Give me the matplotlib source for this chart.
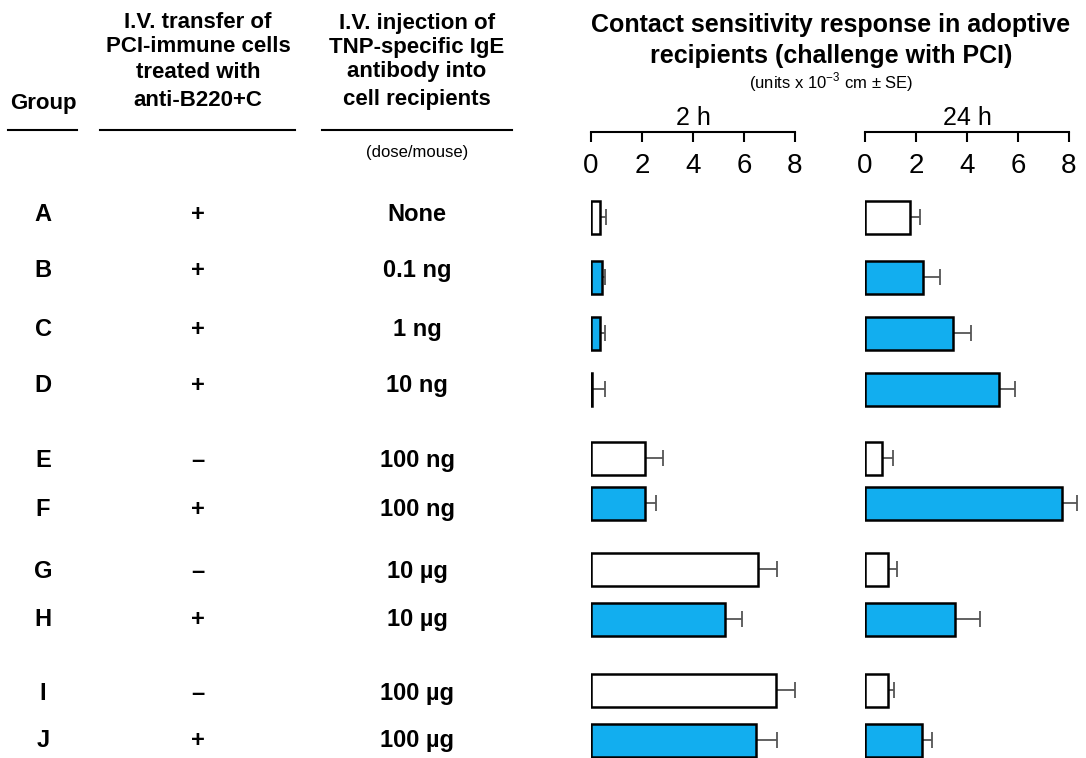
import matplotlib.pyplot as plt

plt.rcParams['font.family'] = ['Liberation Sans', 'DejaVu Sans']
plt.rcParams['mathtext.fontset'] = 'custom'
plt.rcParams['mathtext.rm'] = 'Liberation Sans'

# data
groups = ['A', 'B', 'C', 'D', 'E', 'F', 'G', 'H', 'I', 'J']
b220_treated = ['+', '+', '+', '+', '–', '+', '–', '+', '–', '+']
doses = ['None', '0.1 ng', '1 ng', '10 ng', '100 ng', '100 ng',
         '10 µg', '10 µg', '100 µg', '100 µg']
resp_2h = [0.35, 0.45, 0.35, 0.05, 2.12, 2.1, 6.55, 5.26, 7.24, 6.48]
err_2h = [0.22, 0.08, 0.2, 0.5, 0.7, 0.45, 0.75, 0.67, 0.75, 0.8]
resp_24h = [1.76, 2.28, 3.45, 5.27, 0.65, 7.72, 0.91, 3.52, 0.89, 2.24]
err_24h = [0.4, 0.65, 0.7, 0.63, 0.43, 0.58, 0.35, 1.0, 0.25, 0.4]
ticks = [0, 2, 4, 6, 8]

# layout (figure pixels, measured from the top)
W, H = 1086, 758
bar_y = [217, 277, 333, 389, 458, 503, 569, 619, 690, 740]
text_y = [212, 268, 327, 383, 458, 507, 569, 617, 691, 738]
bar_fill = ['white', '#12aeef', '#12aeef', '#12aeef', 'white',
            '#12aeef', 'white', '#12aeef', 'white', '#12aeef']


def px(x, y):
    return x / W, 1 - y / H


fig = plt.figure(figsize=(W / 100, H / 100), dpi=100)

panels = [(591, 795, resp_2h, err_2h, '2 h'),
          (865, 1069, resp_24h, err_24h, '24 h')]
for x0, x1, resp, err, lab in panels:
    ax = fig.add_axes([x0 / W, 0, (x1 - x0) / W, 1])
    ax.set_xlim(0, 8)
    ax.set_ylim(H, 0)
    ax.patch.set_alpha(0)
    ax.barh(bar_y, resp, height=33, color=bar_fill, edgecolor='black',
            linewidth=1.8, zorder=2)
    eb = ax.errorbar(resp, bar_y, xerr=[[0] * len(err), err], fmt='none',
                     ecolor='#555555', elinewidth=1.3, capsize=6,
                     capthick=1.3, zorder=1)
    for part in eb.lines[1] + eb.lines[2]:
        part.set_clip_on(False)
    for s in ['top', 'left', 'right']:
        ax.spines[s].set_visible(False)
    ax.spines['bottom'].set_position(('data', 132))
    ax.spines['bottom'].set_linewidth(1.5)
    ax.set_xticks(ticks)
    ax.tick_params(axis='x', direction='out', length=7, width=1.5,
                   labelsize=20, pad=8)
    ax.set_yticks([])
    ax.text(4, 118, lab, ha='center', va='center', fontsize=18)

# panel header
fig.text(*px(831, 25), 'Contact sensitivity response in adoptive',
         ha='center', va='center', fontsize=18, fontweight='bold')
fig.text(*px(831, 56), 'recipients (challenge with PCI)',
         ha='center', va='center', fontsize=18, fontweight='bold')
fig.text(*px(831, 82), r'(units x 10$^{-3}$ cm ± SE)',
         ha='center', va='center', fontsize=12)

# left column headers
fig.text(*px(43, 104), 'Group', ha='center', va='center',
         fontsize=16, fontweight='bold')
hdr2 = ['I.V. transfer of', 'PCI-immune cells', 'treated with', 'anti-B220+C']
hdr3 = ['I.V. injection of', 'TNP-specific IgE', 'antibody into',
        'cell recipients']
for i, yy in enumerate([23, 47, 72, 100]):
    fig.text(*px(198, yy), hdr2[i], ha='center', va='center',
             fontsize=16, fontweight='bold')
    fig.text(*px(417, yy), hdr3[i], ha='center', va='center',
             fontsize=16, fontweight='bold')
fig.text(*px(417, 152), '(dose/mouse)', ha='center', va='center', fontsize=12)

for xa, xb in [(8, 77), (100, 295), (322, 512)]:
    fig.add_artist(plt.Line2D([xa / W, xb / W], [1 - 130 / H] * 2,
                              color='black', linewidth=1.5))

for i in range(len(groups)):
    yy = text_y[i]
    fig.text(*px(43, yy), groups[i], ha='center', va='center_baseline',
             fontsize=17, fontweight='bold')
    fig.text(*px(198, yy), b220_treated[i], ha='center',
             va='center_baseline', fontsize=17, fontweight='bold')
    fig.text(*px(417, yy), doses[i], ha='center', va='center_baseline',
             fontsize=17, fontweight='bold')

fig.savefig('out.png', dpi=100)
